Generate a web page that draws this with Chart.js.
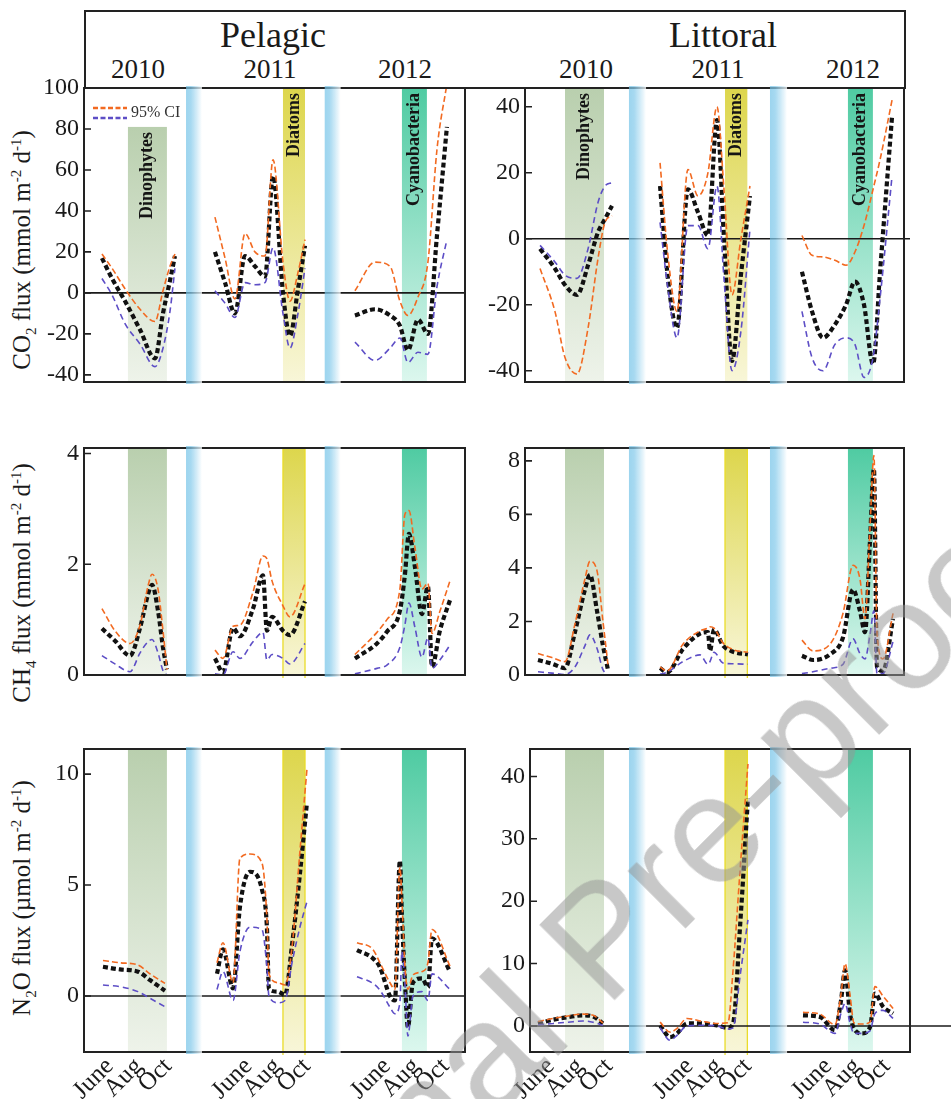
<!DOCTYPE html>
<html>
<head>
<meta charset="utf-8">
<script src="https://cdn.jsdelivr.net/npm/chart.js@4.4.1/dist/chart.umd.min.js"></script>
<style>
  body { margin: 0; background: #fff; width: 951px; height: 1099px; position: relative; overflow: hidden;
         font-family: 'Liberation Serif', 'Times New Roman', serif; color: #1a1a1a; }
  canvas { position: absolute; }
  .head { position: absolute; left: 84px; top: 10px; width: 822px; height: 79px; box-sizing: border-box; border: 2px solid #222; }
  .t { position: absolute; white-space: nowrap; line-height: 1; transform: translateX(-50%); }
  .big { font-size: 36px; top: 17px; }
  .yr { font-size: 27px; top: 56px; }
  .yt { position: absolute; white-space: nowrap; font-size: 25px; line-height: 1; transform: translate(-50%, -50%) rotate(-90deg); }
  .yt sub, .yt sup { font-size: 15px; }
  .wm { position: absolute; left: 218px; top: 1266px; font-family: 'Liberation Sans', Arial, sans-serif; font-size: 154px;
        line-height: 1; white-space: nowrap; color: rgba(150, 150, 150, 0.52); transform-origin: 0 130px;
        transform: rotate(-45deg); pointer-events: none; }
</style>
</head>
<body>
<div class="head"></div>
<div class="t big" style="left:273px">Pelagic</div>
<div class="t big" style="left:723px">Littoral</div>
<div class="t yr" style="left:138px">2010</div>
<div class="t yr" style="left:270px">2011</div>
<div class="t yr" style="left:405px">2012</div>
<div class="t yr" style="left:586px">2010</div>
<div class="t yr" style="left:718px">2011</div>
<div class="t yr" style="left:853px">2012</div>

<div class="yt" style="left:24px; top:250px">CO<sub>2</sub> flux (mmol m<sup>-2</sup> d<sup>-1</sup>)</div>
<div class="yt" style="left:24px; top:583px">CH<sub>4</sub> flux (mmol m<sup>-2</sup> d<sup>-1</sup>)</div>
<div class="yt" style="left:24px; top:898px">N<sub>2</sub>O flux (µmol m<sup>-2</sup> d<sup>-1</sup>)</div>

<canvas id="co2Pel"></canvas>
<canvas id="co2Lit"></canvas>
<canvas id="ch4Pel"></canvas>
<canvas id="ch4Lit"></canvas>
<canvas id="n2oPel"></canvas>
<canvas id="n2oLit"></canvas>

<div class="wm">Journal Pre-proof</div>

<script>
const SERIF = "'Liberation Serif', 'Times New Roman', serif";
const YEAR_SPAN = 9.5;   // months between the start of one sampling year and the next on the x axis

const monthTicks = [6, 8, 10];
const monthLabels = ['June', 'Aug', 'Oct'];

const co2PelTicks = [-40, -20, 0, 20, 40, 60, 80, 100];
const co2LitTicks = [-40, -20, 0, 20, 40];
const ch4PelTicks = [0, 2, 4];
const ch4LitTicks = [0, 2, 4, 6, 8];
const n2oPelTicks = [0, 5, 10];
const n2oLitTicks = [0, 10, 20, 30, 40];

// x = month of the year, one sub-array per year (2010, 2011, 2012)
// Ci1 = orange 95% CI line, Ci2 = purple 95% CI line

// CO2 pelagic
const co2PelX = [
    [5.47, 6.16, 7.05, 8.08, 9.10, 9.65, 10.13, 10.47],
    [3.71, 4.40, 5.08, 5.77, 6.45, 7.14, 7.69, 8.37, 8.85, 9.40, 9.88],
    [3.80, 5.17, 6.20, 6.88, 7.43, 8.12, 8.80, 9.42, 10.10]
];
const co2PelMean = [
    [17, 7, -4, -18, -32, -10, 6, 18],
    [20, 5, -10, 18, 13, 8, 57, 0, -21, 2, 23],
    [-11, -8, -11, -16, -28, -13, -20, 28, 81]
];
const co2PelCi1 = [
    [19, 12, 2, -8, -14, 1, 13, 19],
    [37, 17, -3, 29, 20, 18, 65, 15, -4, 10, 26],
    [1, 15, 13, -4, -11, -2, 15, 70, 102]
];
const co2PelCi2 = [
    [7, -1, -15, -25, -36, -27, -9, 12],
    [1, -5, -12, 5, 4, 5, 22, -10, -27, -10, 12],
    [-24, -33, -27, -22, -34, -29, -30, 3, 26]
];

// CO2 littoral
const co2LitX = [
    [5.27, 6.29, 6.98, 7.80, 8.56, 9.24, 9.72, 10.20],
    [3.99, 4.53, 5.15, 5.90, 6.59, 7.27, 7.89, 8.37, 8.92, 9.53, 10.15],
    [4.21, 4.90, 5.65, 6.47, 7.23, 7.84, 8.46, 9.08, 9.56, 10.38]
];
const co2LitMean = [
    [-3, -9, -14, -17, -8, 2, 6, 10],
    [16, -12, -27, 15, 8, 1, 36, 0, -37, -11, 13],
    [-10, -22, -30, -26, -20, -13, -20, -38, -10, 37]
];
const co2LitCi1 = [
    [-9, -22, -36, -41, -27, -6, 5, 7],
    [23, -5, -22, 21, 13, 20, 40, 15, -17, 0, 16],
    [1, -5, -5.5, -6.5, -8, -4, 4, 15, 24, 42]
];
const co2LitCi2 = [
    [-2, -7, -11, -12, -3, 11, 16, 17],
    [5, -15, -30, 4, 4, -3, 16, -12, -40, -28, 3],
    [-22, -36, -40, -32, -30, -32, -42, -36, -18, 19]
];

// CH4 pelagic
const ch4PelX = [
    [5.47, 6.36, 7.39, 8.08, 8.62, 8.90, 9.31, 9.65, 9.92],
    [3.71, 4.26, 4.95, 5.42, 6.32, 7.00, 7.27, 7.62, 8.37, 8.85, 9.88],
    [3.80, 5.31, 5.99, 6.88, 7.22, 7.50, 7.91, 8.39, 8.80, 9.08, 9.62, 10.31]
];
const ch4PelMean = [
    [0.84, 0.62, 0.35, 0.85, 1.45, 1.63, 1.16, 0.5, 0.1],
    [0.3, 0.05, 0.85, 0.7, 1.2, 1.8, 0.8, 1.05, 0.8, 0.72, 1.33],
    [0.3, 0.57, 0.78, 1.16, 1.8, 2.55, 1.95, 1.1, 1.6, 0.15, 0.8, 1.35]
];
const ch4PelCi1 = [
    [1.2, 0.8, 0.57, 0.9, 1.6, 1.82, 1.55, 0.8, 0.1],
    [0.45, 0.3, 0.88, 0.9, 1.5, 2.15, 2.1, 1.7, 1.25, 1.05, 1.65],
    [0.37, 0.77, 1.0, 1.55, 2.9, 2.97, 2.3, 1.55, 1.66, 0.75, 1.15, 1.7]
];
const ch4PelCi2 = [
    [0.35, 0.2, 0.06, 0.4, 0.6, 0.64, 0.4, 0.08, 0],
    [0.02, 0, 0.42, 0.3, 0.6, 0.77, 0.27, 0.37, 0.3, 0.2, 0.57],
    [0.02, 0.12, 0.18, 0.5, 0.9, 1.3, 0.86, 0.32, 0.67, 0.12, 0.27, 0.54]
];

// CH4 littoral
const ch4LitX = [
    [5.13, 6.09, 6.98, 7.66, 8.35, 8.69, 9.17, 9.58, 9.92],
    [3.99, 4.47, 5.56, 6.73, 7.27, 7.41, 7.69, 8.30, 8.99, 10.01],
    [4.21, 4.97, 6.13, 7.02, 7.71, 8.18, 8.53, 8.87, 9.14, 9.35, 9.76, 10.45]
];
const ch4LitMean = [
    [0.56, 0.42, 0.26, 1.6, 3.2, 3.74, 2.4, 1.1, 0.2],
    [0.26, 0.1, 0.97, 1.55, 1.6, 0.9, 1.7, 1.1, 0.87, 0.77],
    [0.72, 0.56, 0.77, 1.4, 3.2, 2.4, 1.6, 5.0, 7.7, 0.3, 0.15, 2.1]
];
const ch4LitCi1 = [
    [0.8, 0.65, 0.5, 1.9, 3.6, 4.25, 3.9, 2.0, 0.4],
    [0.3, 0.15, 1.15, 1.65, 1.75, 1.8, 1.75, 1.2, 0.95, 0.85],
    [1.3, 0.9, 1.15, 2.3, 4.1, 3.6, 2.1, 5.5, 8.2, 1.6, 0.6, 2.3]
];
const ch4LitCi2 = [
    [0.12, 0.07, 0.02, 0.3, 1.1, 1.5, 1.0, 0.2, 0.05],
    [0.03, 0.1, 0.5, 0.75, 0.4, 0.5, 0.85, 0.45, 0.42, 0.4],
    [0.05, 0.12, 0.25, 0.4, 1.35, 0.8, 0.6, 1.5, 2.4, 0.05, 0.05, 1.25]
];

// N2O pelagic
const n2oPelX = [
    [5.54, 6.71, 7.94, 8.76, 9.79],
    [3.85, 4.26, 4.95, 5.42, 6.11, 6.93, 7.27, 7.41, 8.03, 8.51, 8.99, 9.53, 10.01],
    [3.94, 5.03, 5.51, 6.20, 6.54, 6.88, 7.02, 7.23, 7.43, 7.77, 8.39, 8.80, 9.08, 10.31]
];
const n2oPelMean = [
    [1.32, 1.2, 1.1, 0.72, 0.24],
    [1.0, 2.1, 0.35, 4.0, 5.6, 4.8, 3.1, 0.3, 0.2, 0.05, 2.3, 5.5, 8.7],
    [2.07, 1.7, 1.3, 0.0, -0.2, 6.1, 3.6, 0.6, -1.4, 0.6, 0.8, 0.4, 2.6, 1.1]
];
const n2oPelCi1 = [
    [1.6, 1.5, 1.4, 1.0, 0.57],
    [1.5, 2.4, 0.6, 6.2, 6.4, 6.0, 3.5, 1.0, 0.6, 0.5, 2.2, 6.5, 10.2],
    [2.4, 2.1, 1.5, 0.6, 0.3, 5.8, 4.3, 1.3, 0.3, 0.95, 1.1, 1.5, 3.0, 1.35]
];
const n2oPelCi2 = [
    [0.5, 0.42, 0.2, -0.1, -0.48],
    [0.3, 1.1, -0.2, 2.0, 3.1, 3.0, 1.3, 0.0, -0.3, -0.2, 1.5, 3.1, 4.25],
    [0.87, 0.57, 0.27, -0.5, -0.8, -0.3, 2.0, 0.5, -1.8, 0.0, 0.2, -0.2, 1.0, 0.3]
];

// N2O littoral
const n2oLitX = [
    [5.13, 6.16, 7.19, 8.21, 8.90, 9.58],
    [3.99, 4.67, 5.15, 5.84, 6.73, 7.89, 8.64, 8.99, 9.47, 10.01],
    [4.28, 5.44, 6.47, 6.88, 7.16, 7.50, 7.77, 8.32, 8.87, 9.21, 9.76, 10.45]
];
const n2oLitMean = [
    [0.4, 1.0, 1.4, 1.7, 1.5, 0.4],
    [0.1, -1.8, -1.2, 0.4, 0.4, 0.1, -0.3, 0.4, 16, 36.5],
    [1.7, 1.45, -0.7, 4, 8.9, 2.0, -0.4, -1.2, -0.2, 5.2, 3.1, 2.0]
];
const n2oLitCi1 = [
    [0.7, 1.2, 1.6, 1.9, 1.7, 0.5],
    [0.6, -1.0, -0.4, 1.2, 0.8, 0.4, 0.5, 9, 25, 42],
    [2.2, 1.9, 0.2, 5, 10, 5, 0.5, 0.3, 0.6, 6.3, 4.8, 2.8]
];
const n2oLitCi2 = [
    [0.2, 0.4, 0.6, 0.8, 0.6, 0.1],
    [-0.3, -2.3, -1.5, 0, 0.1, 0, -0.5, -0.3, 8, 17],
    [0.6, 0.3, -1.2, 2, 3.6, 0.5, -1.2, -1.2, -0.8, 2, 2.5, 1.2]
];

// shaded periods: [year index, from month, to month]
const pelBreaks = [[0, 11.23, 12.32], [1, 11.23, 12.32]];
const litBreaks = [[0, 11.36, 12.53], [1, 11.52, 12.69]];
const bloomNames = ['Dinophytes', 'Diatoms', 'Cyanobacteria'];
const pelBlooms = [[0, 7.25, 9.92], [1, 8.37, 9.88], [2, 7.02, 8.73]];
const litBlooms = [[0, 6.98, 9.65], [1, 8.44, 9.97], [2, 7.36, 9.07]];
const bloomColors = [['#b9cfae', '#eef3ea'], ['#ddd64c', '#f8f6d8'], ['#4fcba2', '#dcf7ee']];

const panelDecor = {
    id: 'panelDecor',
    beforeDatasetsDraw(chart, args, o) {
        const { ctx, chartArea: a, scales: { x, y } } = chart;
        ctx.save();
        o.blooms.forEach((b, i) => {
            const x0 = x.getPixelForValue(b[1] + b[0] * YEAR_SPAN);
            const x1 = x.getPixelForValue(b[2] + b[0] * YEAR_SPAN);
            const top = (i === 0 && o.dinoTop != null) ? y.getPixelForValue(o.dinoTop) : a.top;
            const g = ctx.createLinearGradient(0, top, 0, a.bottom);
            g.addColorStop(0, bloomColors[i][0]);
            g.addColorStop(1, bloomColors[i][1]);
            ctx.fillStyle = g;
            ctx.fillRect(x0, top, x1 - x0, a.bottom - top);
            if (i === 1 && o.edge) {
                ctx.strokeStyle = '#eadc2a';
                ctx.lineWidth = 1.3;
                ctx.beginPath();
                ctx.moveTo(x0, a.top); ctx.lineTo(x0, a.bottom + 3);
                ctx.moveTo(x1, a.top); ctx.lineTo(x1, a.bottom + 3);
                ctx.stroke();
            }
        });
        const z = y.getPixelForValue(0);
        ctx.strokeStyle = '#1a1a1a';
        ctx.lineWidth = 1.6;
        ctx.beginPath();
        ctx.moveTo(a.left, z);
        ctx.lineTo(a.right + o.zeroExt, z);
        ctx.stroke();
        ctx.restore();
    },
    afterDatasetsDraw(chart, args, o) {
        const { ctx, chartArea: a, scales: { x, y } } = chart;
        ctx.save();
        // frame
        ctx.strokeStyle = '#222';
        ctx.lineWidth = 2;
        ctx.strokeRect(a.left, a.top, a.right - a.left, a.bottom - a.top);
        // inward tick marks
        ctx.lineWidth = 1.6;
        ctx.beginPath();
        y.ticks.forEach(t => {
            const py = y.getPixelForValue(t.value);
            ctx.moveTo(a.left, py);
            ctx.lineTo(a.left + 7, py);
        });
        ctx.stroke();
        // breaks between years
        o.breaks.forEach(b => {
            const x0 = x.getPixelForValue(b[1] + b[0] * YEAR_SPAN);
            const x1 = x.getPixelForValue(b[2] + b[0] * YEAR_SPAN);
            const g = ctx.createLinearGradient(x0, 0, x1, 0);
            g.addColorStop(0, 'rgba(118,196,232,0.72)');
            g.addColorStop(0.3, 'rgba(132,202,235,0.72)');
            g.addColorStop(1, 'rgba(255,255,255,0.78)');
            ctx.fillStyle = g;
            ctx.fillRect(x0, a.top - 2, x1 - x0, a.bottom - a.top + 4);
        });
        // bloom names
        if (o.labels) {
            ctx.fillStyle = '#151515';
            ctx.font = 'bold 18px ' + SERIF;
            ctx.textAlign = 'right';
            ctx.textBaseline = 'middle';
            o.blooms.forEach((b, i) => {
                const cx = (x.getPixelForValue(b[1] + b[0] * YEAR_SPAN) + x.getPixelForValue(b[2] + b[0] * YEAR_SPAN)) / 2;
                const top = (i === 0 && o.dinoTop != null) ? y.getPixelForValue(o.dinoTop) : a.top;
                ctx.save();
                ctx.translate(cx, top + 5);
                ctx.rotate(-Math.PI / 2);
                ctx.fillText(bloomNames[i], 0, 0);
                ctx.restore();
            });
        }
        // legend
        if (o.legend) {
            ctx.lineWidth = 2.4;
            ctx.setLineDash([5, 2.5]);
            ctx.strokeStyle = '#f26a21';
            ctx.beginPath(); ctx.moveTo(a.left + 9, a.top + 20); ctx.lineTo(a.left + 43, a.top + 20); ctx.stroke();
            ctx.strokeStyle = '#5d4ec6';
            ctx.beginPath(); ctx.moveTo(a.left + 9, a.top + 30); ctx.lineTo(a.left + 43, a.top + 30); ctx.stroke();
            ctx.setLineDash([]);
            ctx.fillStyle = '#333';
            ctx.font = '16px ' + SERIF;
            ctx.textAlign = 'left';
            ctx.textBaseline = 'middle';
            ctx.fillText('95% CI', a.left + 47, a.top + 25);
        }
        ctx.restore();
    }
};

function series(X, vals, yi) {
    return X[yi].map((m, i) => ({ x: m + yi * YEAR_SPAN, y: vals[yi][i] }));
}

function makePanel(p) {
    const [l, t, r, b] = p.geom;
    const padT = 24, padR = p.padR, padB = p.bottom ? 0 : 24, axW = 62, axH = 50;
    const cv = document.getElementById(p.id);
    cv.width = axW + (r - l) + padR;
    cv.height = padT + (b - t) + (p.bottom ? axH : padB);
    cv.style.left = (l - axW) + 'px';
    cv.style.top = (t - padT) + 'px';

    const datasets = [];
    for (let yi = 0; yi < 3; yi++) {
        datasets.push({ data: series(p.X, p.ci1, yi), borderColor: '#f26a21', borderWidth: 1.6, borderDash: [6, 3] });
        datasets.push({ data: series(p.X, p.ci2, yi), borderColor: '#5d4ec6', borderWidth: 1.6, borderDash: [6, 4] });
        datasets.push({ data: series(p.X, p.mean, yi), borderColor: '#111', borderWidth: 4.2, borderDash: [5, 3] });
    }
    datasets.forEach(d => Object.assign(d, { pointRadius: 0, fill: false, cubicInterpolationMode: 'monotone' }));

    const xTicks = [];
    for (let yi = 0; yi < 3; yi++) monthTicks.forEach(m => xTicks.push(m + yi * YEAR_SPAN));

    new Chart(cv, {
        type: 'line',
        data: { datasets },
        options: {
            responsive: false,
            animation: false,
            devicePixelRatio: 1,
            layout: { padding: { top: padT, right: padR, bottom: padB, left: 0 } },
            plugins: {
                legend: { display: false },
                tooltip: { enabled: false },
                panelDecor: {
                    blooms: p.blooms, breaks: p.breaks, labels: p.labels, legend: p.legend,
                    dinoTop: p.dinoTop, edge: p.edge, zeroExt: p.zeroExt
                }
            },
            scales: {
                x: {
                    type: 'linear', min: p.xr[0], max: p.xr[1], display: p.bottom,
                    grid: { display: false, drawTicks: false }, border: { display: false },
                    afterBuildTicks: s => { s.ticks = xTicks.map(v => ({ value: v })); },
                    afterFit: s => { s.height = axH; },
                    ticks: {
                        autoSkip: false, minRotation: 45, maxRotation: 45, padding: 0, color: '#1a1a1a',
                        font: { family: SERIF, size: 25 },
                        callback: (v, i) => monthLabels[i % 3]
                    }
                },
                y: {
                    min: p.yr[0], max: p.yr[1],
                    grid: { display: false, drawTicks: false }, border: { display: false },
                    afterBuildTicks: s => { s.ticks = p.ticks.map(v => ({ value: v })); },
                    afterFit: s => { s.width = axW; },
                    ticks: { padding: 5, color: '#1a1a1a', font: { family: SERIF, size: 24 }, callback: v => String(v) }
                }
            }
        },
        plugins: [panelDecor]
    });
}

const panels = [
    { id: 'co2Pel', geom: [84, 88, 465, 432], xr: [4.24, 30.34], yr: [-43.5, 100], ticks: co2PelTicks,
      X: co2PelX, mean: co2PelMean, ci1: co2PelCi1, ci2: co2PelCi2, breaks: pelBreaks, blooms: pelBlooms,
      labels: true, legend: true, dinoTop: 81, edge: false, bottom: false, zeroExt: 0, padR: 10 },
    { id: 'co2Lit', geom: [525, 88, 904, 432], xr: [4.24, 30.2], yr: [-43.4, 45.7], ticks: co2LitTicks,
      X: co2LitX, mean: co2LitMean, ci1: co2LitCi1, ci2: co2LitCi2, breaks: litBreaks, blooms: litBlooms,
      labels: true, legend: false, edge: false, bottom: false, zeroExt: 6, padR: 10 },
    { id: 'ch4Pel', geom: [84, 448, 465, 725], xr: [4.24, 30.34], yr: [0, 4.1], ticks: ch4PelTicks,
      X: ch4PelX, mean: ch4PelMean, ci1: ch4PelCi1, ci2: ch4PelCi2, breaks: pelBreaks, blooms: pelBlooms,
      labels: false, legend: false, edge: true, bottom: false, zeroExt: 0, padR: 10 },
    { id: 'ch4Lit', geom: [525, 448, 904, 725], xr: [4.24, 30.2], yr: [0, 8.48], ticks: ch4LitTicks,
      X: ch4LitX, mean: ch4LitMean, ci1: ch4LitCi1, ci2: ch4LitCi2, breaks: litBreaks, blooms: litBlooms,
      labels: false, legend: false, edge: true, bottom: false, zeroExt: 0, padR: 10 },
    { id: 'n2oPel', geom: [84, 749, 465, 1052], xr: [4.24, 30.34], yr: [-2.52, 11.13], ticks: n2oPelTicks,
      X: n2oPelX, mean: n2oPelMean, ci1: n2oPelCi1, ci2: n2oPelCi2, breaks: pelBreaks, blooms: pelBlooms,
      labels: false, legend: false, edge: true, bottom: true, zeroExt: 0, padR: 10 },
    { id: 'n2oLit', geom: [530, 749, 910, 1052], xr: [4.58, 30.61], yr: [-4.18, 44.4], ticks: n2oLitTicks,
      X: n2oLitX, mean: n2oLitMean, ci1: n2oLitCi1, ci2: n2oLitCi2, breaks: litBreaks, blooms: litBlooms,
      labels: false, legend: false, edge: true, bottom: true, zeroExt: 41, padR: 41 }
];

panels.forEach(makePanel);
</script>
</body>
</html>
